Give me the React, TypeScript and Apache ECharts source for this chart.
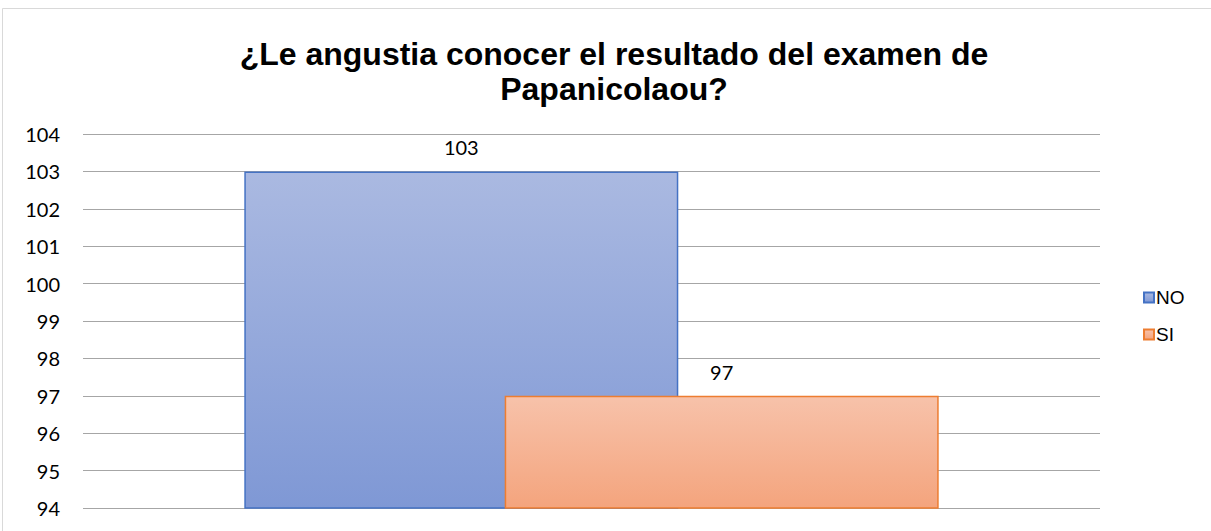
import React, { useEffect, useRef } from "react";
import * as echarts from "echarts";

const title = "¿Le angustia conocer el resultado del examen de\nPapanicolaou?";
const categories = [""];
const seriesNames = ["NO", "SI"];
const noValues = [103];
const siValues = [97];
const yMin = 94;
const yMax = 104;

export default function App() {
  const ref = useRef<HTMLDivElement>(null);
  useEffect(() => {
    document.body.style.margin = "0";
    const chart = echarts.init(ref.current!, null, { renderer: "svg" });
    const grad = (top: string, bottom: string) =>
      new echarts.graphic.LinearGradient(0, 0, 0, 1, [
        { offset: 0, color: top },
        { offset: 1, color: bottom },
      ]);
    chart.setOption({
      animation: false,
      backgroundColor: "#ffffff",
      graphic: [
        {
          type: "rect",
          shape: { x: 2.5, y: 8.5, width: 1300, height: 600 },
          style: { fill: "none", stroke: "#d9d9d9", lineWidth: 1 },
          silent: true,
          z: -1,
        },
      ],
      title: {
        text: title,
        left: 609,
        textAlign: "center",
        top: 31,
        textStyle: {
          fontFamily: "Liberation Sans",
          fontWeight: "bold",
          fontSize: 32,
          lineHeight: 35,
          color: "#000",
        },
      },
      legend: {
        orient: "vertical",
        left: 1138,
        top: 283,
        itemWidth: 10,
        itemHeight: 10,
        itemGap: 18,
        icon: "rect",
        textStyle: { fontFamily: "Liberation Sans", fontSize: 19, color: "#000", padding: [0, 0, 0, -3] },
        data: seriesNames,
      },
      grid: { left: 83, right: 111, top: 134, bottom: 23 },
      xAxis: {
        type: "category",
        data: categories,
        axisLine: { show: false },
        axisTick: { show: false },
        axisLabel: { show: false },
      },
      yAxis: {
        type: "value",
        min: yMin,
        max: yMax,
        interval: 1,
        axisLine: { show: false },
        axisTick: { show: false },
        axisLabel: { fontFamily: "Lato", fontSize: 20, color: "#000", margin: 23 },
        splitLine: { lineStyle: { color: "#a6a6a6", width: 1 } },
      },
      series: [
        {
          name: seriesNames[0],
          type: "bar",
          data: noValues,
          barWidth: 434,
          barGap: "-40%",
          itemStyle: {
            color: grad("#aab9e1", "#7f98d5"),
            borderColor: "#4472c4",
            borderWidth: 1.5,
          },
          label: {
            show: true,
            position: "top",
            distance: 14,
            fontFamily: "Lato",
            fontSize: 20,
            color: "#000",
          },
        },
        {
          name: seriesNames[1],
          type: "bar",
          data: siValues,
          barWidth: 434,
          itemStyle: {
            color: grad("#f7c2aa", "#f4a47d"),
            borderColor: "#ed7d31",
            borderWidth: 1.5,
          },
          label: {
            show: true,
            position: "top",
            distance: 14,
            fontFamily: "Lato",
            fontSize: 20,
            color: "#000",
          },
        },
      ],
    });
    return () => chart.dispose();
  }, []);
  return <div ref={ref} style={{ width: 1211, height: 531 }} />;
}
